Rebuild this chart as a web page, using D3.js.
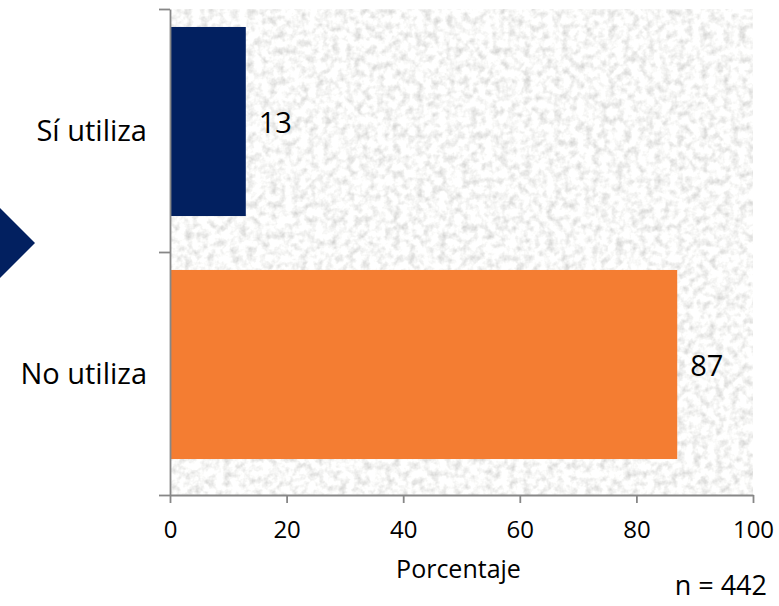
<html>
<head>
  <meta charset="utf-8">
  <title>Uso</title>
  <script src="https://d3js.org/d3.v7.min.js"></script>
  <style>
    body { margin: 0; background: #fff; }
    text { font-family: "Open Sans", "Noto Sans", sans-serif; fill: #000; }
    .axis path, .axis line { stroke: #878787; stroke-width: 1.8; }
  </style>
</head>
<body>
  <div id="chart"></div>

  <script type="text/javascript">
    // data
    var categories = ['Sí utiliza', 'No utiliza'];
    var values = [13, 87];
    var barColors = ['#022060', '#F47D32'];
    var xTicks = [0, 20, 40, 60, 80, 100];
    var xTitle = 'Porcentaje';
    var note = 'n = 442';

    var W = 779, H = 606;
    var margin = {top: 9, right: 26, bottom: 111, left: 170};
    var width = W - margin.left - margin.right;
    var height = H - margin.top - margin.bottom;

    var svg = d3.select('#chart')
                .append('svg')
                  .attr('width', W)
                  .attr('height', H);

    // granite-like texture for the plot area
    var defs = svg.append('defs');
    var filt = defs.append('filter')
                   .attr('id', 'granite')
                   .attr('x', 0).attr('y', 0)
                   .attr('width', 1).attr('height', 1);
    filt.append('feTurbulence')
          .attr('type', 'fractalNoise')
          .attr('baseFrequency', 0.13)
          .attr('numOctaves', 3)
          .attr('seed', 4);
    filt.append('feColorMatrix')
          .attr('type', 'matrix')
          .attr('values', '0.7 0 0 0 0.59  0.7 0 0 0 0.59  0.7 0 0 0 0.58  0 0 0 0 1');

    // decorative chevron at the left edge
    svg.append('path')
         .attr('d', 'M-12,196 L35,243 L-12,290 Z')
         .attr('fill', '#022060');

    var g = svg.append('g')
               .attr('transform', 'translate(' + margin.left + ',' + margin.top + ')');

    g.append('rect')
       .attr('width', width)
       .attr('height', height)
       .attr('filter', 'url(#granite)');

    var x = d3.scaleLinear().domain([0, 100]).range([0, width]);
    var yCat = d3.scaleBand().domain(categories).range([0, height]);
    var yBar = d3.scaleBand().domain(categories).range([0, height])
                 .paddingInner(0.222).paddingOuter(0.111).align(1 / 3);
    var yEdge = d3.scaleLinear().domain([0, categories.length]).range([0, height]);

    // bars
    g.selectAll('.bar')
       .data(categories)
       .enter()
       .append('rect')
         .attr('class', 'bar')
         .attr('x', x(0))
         .attr('y', function(d) { return yBar(d); })
         .attr('width', function(d, i) { return x(values[i]) - x(0); })
         .attr('height', yBar.bandwidth())
         .attr('fill', function(d, i) { return barColors[i]; });

    // value labels
    g.selectAll('.val')
       .data(categories)
       .enter()
       .append('text')
         .attr('class', 'val')
         .attr('x', function(d, i) { return x(values[i]) + 13; })
         .attr('y', function(d) { return yBar(d) + yBar.bandwidth() / 2 + 11; })
         .style('font-size', '29px')
         .text(function(d, i) { return values[i]; });

    // axes
    var yAxis = d3.axisLeft(yEdge)
                  .tickValues(d3.range(categories.length + 1))
                  .tickSize(11)
                  .tickSizeOuter(0)
                  .tickFormat('');
    g.append('g').attr('class', 'axis').call(yAxis);

    var xAxis = d3.axisBottom(x)
                  .tickValues(xTicks)
                  .tickSize(8)
                  .tickSizeOuter(0)
                  .tickPadding(18);
    var xg = g.append('g')
              .attr('class', 'axis')
              .attr('transform', 'translate(0,' + height + ')')
              .call(xAxis);
    xg.selectAll('text')
        .style('font-size', '24px')
        .style('font-family', '"Open Sans", sans-serif')
        .attr('fill', '#000');

    // category labels
    g.selectAll('.cat')
       .data(categories)
       .enter()
       .append('text')
         .attr('class', 'cat')
         .attr('x', -23)
         .attr('y', function(d) { return yCat(d) + yCat.bandwidth() / 2 + 10; })
         .attr('text-anchor', 'end')
         .style('font-size', '29px')
         .text(function(d) { return d; });

    // axis title and note
    g.append('text')
       .attr('x', width / 2 - 3)
       .attr('y', height + 83)
       .attr('text-anchor', 'middle')
       .style('font-size', '25px')
       .text(xTitle);

    svg.append('text')
       .attr('x', 767)
       .attr('y', 595)
       .attr('text-anchor', 'end')
       .style('font-size', '27px')
       .text(note);
  </script>
</body>
</html>
